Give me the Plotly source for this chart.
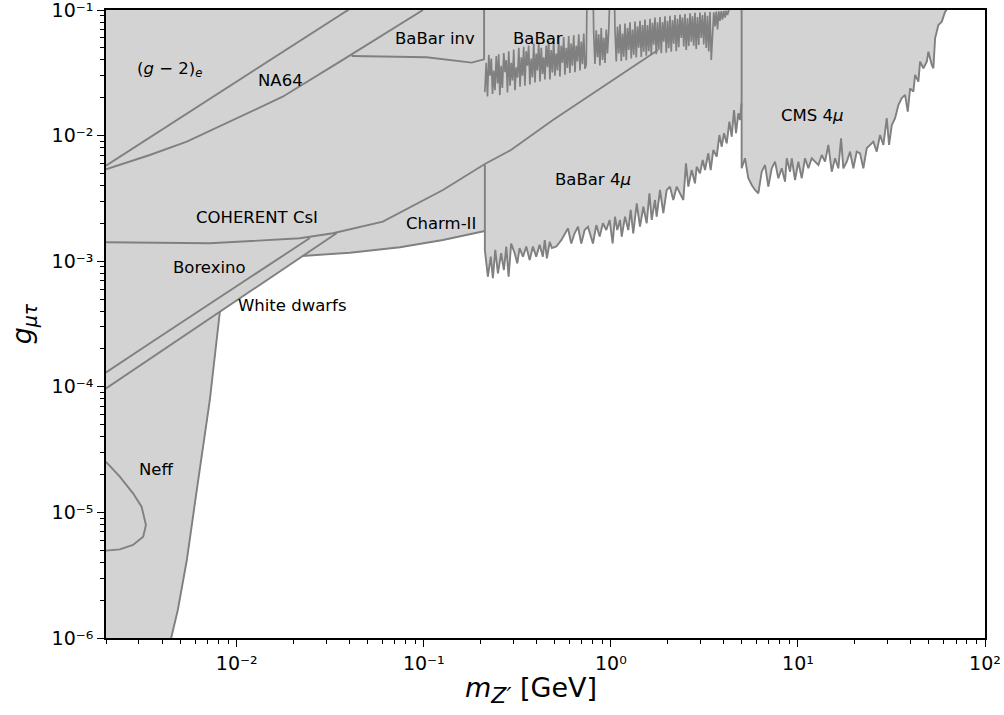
import math
import plotly.graph_objects as go

# ---------------- axis limits ----------------
X_MIN, X_MAX = 0.002, 100.0
Y_MIN, Y_MAX = 1e-6, 1e-1
G_OFF = 1.0        # closing level for excluded regions (above the plot, clipped)
G_LOW = 1e-7       # closing level below the plot

# ---------------- data (m in GeV, g dimensionless) ----------------
g2_m = [0.002, 0.005, 0.01, 0.02, 0.04]
g2_g = [5.76e-3, 1.385e-2, 2.693e-2, 5.23e-2, 1.016e-1]

na64_m = [0.002, 0.00343, 0.00541, 0.00953, 0.0176, 0.0356, 0.0582, 0.099]
na64_g = [5.39e-3, 7.01e-3, 8.94e-3, 1.33e-2, 2.04e-2, 3.88e-2, 6.12e-2, 0.1]

binv_m = [0.0411, 0.1035, 0.1801, 0.21]
binv_g = [4.30e-2, 4.20e-2, 3.81e-2, 4.05e-2]

coh_m = [0.002, 0.00718, 0.02175, 0.03265, 0.0604, 0.1265, 0.212, 0.2922, 0.4903, 1.786]
coh_g = [1.414e-3, 1.389e-3, 1.522e-3, 1.668e-3, 2.063e-3, 3.69e-3, 5.94e-3, 7.68e-3, 1.33e-2, 4.80e-2]

borex_m = [0.002, 0.00365, 0.0246]
borex_g = [1.30e-4, 2.36e-4, 1.53e-3]

wd_m = [0.002, 0.00812, 0.02229, 0.03429]
wd_g = [9.69e-5, 3.94e-4, 1.100e-3, 1.677e-3]

charm_m = [0.0223, 0.04025, 0.0745, 0.1265, 0.212]
charm_g = [1.10e-3, 1.169e-3, 1.290e-3, 1.475e-3, 1.739e-3]

neff_m = [0.00812, 0.00783, 0.00718, 0.00619, 0.00541, 0.00484, 0.00444, 0.00433]
neff_g = [3.94e-4, 2.36e-4, 7.85e-5, 1.714e-5, 4.18e-6, 1.67e-6, 1.0e-6, 8.3e-7]

neff2_m = [0.002, 0.00237, 0.00279, 0.00310, 0.00327, 0.00316, 0.00279, 0.00237, 0.002]
neff2_g = [2.53e-5, 1.924e-5, 1.419e-5, 1.110e-5, 7.94e-6, 6.41e-6, 5.50e-6, 5.08e-6, 4.96e-6]

bvis_m = [0.212, 0.2155, 0.219, 0.2225, 0.226, 0.2295, 0.233, 0.2365, 0.240, 0.244,
          0.248, 0.2515, 0.255, 0.259, 0.263, 0.2675, 0.272, 0.276, 0.280, 0.2845,
          0.289, 0.2935, 0.298, 0.3025, 0.307, 0.312, 0.317, 0.322, 0.327, 0.332,
          0.337, 0.342, 0.347, 0.3525, 0.358, 0.3635, 0.369, 0.375, 0.381, 0.387,
          0.393, 0.399, 0.405, 0.4115, 0.418, 0.4245, 0.431, 0.4375, 0.444, 0.451,
          0.458, 0.465, 0.472, 0.4795, 0.487, 0.4945, 0.502, 0.510, 0.518, 0.526,
          0.534, 0.5425, 0.551, 0.5595, 0.568, 0.577, 0.586, 0.595, 0.604, 0.6135,
          0.623, 0.633, 0.643, 0.653, 0.663, 0.6735, 0.684, 0.6945, 0.705, 0.716,
          0.727, 0.7385, 0.750, 0.7615, 0.773, 0.785, 0.797, 0.8095, 0.822, 0.835,
          0.848, 0.861, 0.874, 0.888, 0.902, 0.916, 0.930, 0.9445, 0.959, 0.974,
          0.989, 1.0045, 1.020, 1.036, 1.052, 1.0685, 1.085, 1.102, 1.119, 1.1365,
          1.154, 1.172, 1.190, 1.2085, 1.227, 1.246, 1.265, 1.285, 1.305, 1.3255,
          1.346, 1.367, 1.388, 1.4095, 1.431, 1.4535, 1.476, 1.499, 1.522, 1.546,
          1.570, 1.5945, 1.619, 1.644, 1.669, 1.695, 1.721, 1.748, 1.775, 1.803,
          1.831, 1.8595, 1.888, 1.9175, 1.947, 1.9775, 2.008, 2.039, 2.070, 2.1025,
          2.135, 2.168, 2.202, 2.2365, 2.271, 2.3065, 2.342, 2.378, 2.415, 2.4525,
          2.490, 2.529, 2.568, 2.608, 2.649, 2.690, 2.731, 2.773, 2.816, 2.860,
          2.904, 2.949, 2.995, 3.042, 3.089, 3.137, 3.185, 3.235, 3.285, 3.336,
          3.387, 3.440, 3.493, 3.548, 3.603, 3.659, 3.716, 3.774, 3.832, 3.891,
          3.951, 4.013, 4.076, 4.139, 4.203, 4.268, 4.334]
bvis_g = [0.0222, 0.0380, 0.0205, 0.0440, 0.0300, 0.0410, 0.0215, 0.0330, 0.0230, 0.0430,
          0.0260, 0.0445, 0.0210, 0.0360, 0.0240, 0.0455, 0.0320, 0.0400, 0.0220, 0.0470,
          0.0250, 0.0380, 0.0275, 0.0485, 0.0230, 0.0350, 0.0290, 0.0500, 0.0245, 0.0420,
          0.0300, 0.0510, 0.0250, 0.0470, 0.0360, 0.0520, 0.0255, 0.0410, 0.0290, 0.0540,
          0.0265, 0.0450, 0.0330, 0.0555, 0.0270, 0.0500, 0.0310, 0.0420, 0.0280, 0.0520,
          0.0350, 0.0570, 0.0280, 0.0480, 0.0318, 0.0590, 0.0300, 0.0450, 0.0330, 0.0600,
          0.0295, 0.0520, 0.0380, 0.0610, 0.0305, 0.0500, 0.0345, 0.0620, 0.0315, 0.0540,
          0.0360, 0.0630, 0.0320, 0.0520, 0.0390, 0.0640, 0.0330, 0.0560, 0.0370, 0.0650,
          0.0340, 0.0365, 0.3, 0.3, 0.3, 0.3, 0.3, 0.0660, 0.0372, 0.0690,
          0.0420, 0.0640, 0.0362, 0.0720, 0.0400, 0.0600, 0.0378, 0.0700, 0.0450, 0.0690,
          0.3, 0.3, 0.3, 0.3, 0.0700, 0.0390, 0.0740, 0.0450, 0.0770, 0.0392,
          0.0650, 0.0425, 0.0780, 0.0398, 0.0720, 0.0480, 0.0800, 0.0412, 0.0700, 0.0440,
          0.0810, 0.0418, 0.0740, 0.0500, 0.0820, 0.0422, 0.0760, 0.0465, 0.0840, 0.0432,
          0.0760, 0.0470, 0.0850, 0.0438, 0.0790, 0.0530, 0.0870, 0.0445, 0.0800, 0.0482,
          0.0880, 0.0452, 0.0800, 0.0560, 0.0890, 0.0458, 0.0820, 0.0496, 0.0900, 0.0466,
          0.0830, 0.0540, 0.0910, 0.0470, 0.0850, 0.0506, 0.0920, 0.0600, 0.0870, 0.0512,
          0.0930, 0.0480, 0.0860, 0.0516, 0.0940, 0.0560, 0.0890, 0.0520, 0.0950, 0.0490,
          0.0880, 0.0526, 0.0955, 0.0600, 0.0910, 0.0532, 0.0960, 0.0498, 0.0900, 0.0468,
          0.0965, 0.0400, 0.0620, 0.0960, 0.0740, 0.0970, 0.0700, 0.0975, 0.0820, 0.0978,
          0.0840, 0.0982, 0.0870, 0.0986, 0.0910, 0.0992, 0.3]

bb4_m = [0.212, 0.212, 0.220, 0.228, 0.234, 0.241, 0.249, 0.259, 0.268, 0.276,
         0.284, 0.293, 0.306, 0.316, 0.325, 0.339, 0.353, 0.368, 0.383, 0.399,
         0.416, 0.433, 0.443, 0.455, 0.471, 0.484, 0.511, 0.543, 0.570, 0.590,
         0.614, 0.640, 0.667, 0.695, 0.724, 0.754, 0.802, 0.836, 0.871, 0.907,
         0.945, 0.985, 1.022, 1.052, 1.082, 1.119, 1.143, 1.190, 1.239, 1.276,
         1.317, 1.375, 1.431, 1.491, 1.554, 1.607, 1.653, 1.721, 1.757, 1.831,
         1.907, 1.988, 2.070, 2.156, 2.248, 2.342, 2.439, 2.521, 2.594, 2.705,
         2.816, 2.875, 2.995, 3.096, 3.185, 3.317, 3.416, 3.527, 3.680, 3.801,
         3.913, 4.026, 4.162, 4.300, 4.425, 4.553, 4.666, 4.801, 4.902, 4.99]
bb4_g = [5.83e-3, 1.23e-3, 7.53e-4, 1.086e-3, 7.32e-4, 1.23e-3, 8.01e-4, 1.158e-3, 8.51e-4, 1.309e-3,
         7.53e-4, 1.384e-3, 1.158e-3, 9.61e-4, 1.271e-3, 1.086e-3, 1.309e-3, 1.02e-3, 1.309e-3, 1.086e-3,
         1.35e-3, 1.086e-3, 1.47e-3, 1.055e-3, 1.425e-3, 1.271e-3, 1.309e-3, 1.47e-3, 1.667e-3, 1.827e-3,
         1.384e-3, 1.667e-3, 1.882e-3, 1.384e-3, 1.77e-3, 1.882e-3, 1.384e-3, 1.94e-3, 1.571e-3, 2.006e-3,
         1.77e-3, 2.13e-3, 1.384e-3, 2.26e-3, 1.77e-3, 2.13e-3, 1.571e-3, 2.26e-3, 1.77e-3, 2.56e-3,
         1.667e-3, 2.89e-3, 1.882e-3, 2.715e-3, 2.006e-3, 3.475e-3, 2.13e-3, 3.07e-3, 2.26e-3, 3.69e-3,
         2.41e-3, 3.69e-3, 3.92e-3, 3.07e-3, 3.92e-3, 3.475e-3, 3.07e-3, 6.02e-3, 3.92e-3, 5.32e-3,
         4.17e-3, 5.65e-3, 5.01e-3, 6.39e-3, 5.32e-3, 7.23e-3, 5.32e-3, 7.68e-3, 6.80e-3, 1.01e-2,
         8.16e-3, 1.045e-2, 8.69e-3, 1.29e-2, 9.80e-3, 1.60e-2, 1.045e-2, 1.506e-2, 1.33e-2, 1.808e-2]

cms_m = [5.0, 5.213, 5.430, 5.662, 5.897, 6.141, 6.402, 6.670, 6.946, 7.242,
         7.543, 7.855, 8.191, 8.531, 8.711, 9.078, 9.268, 9.649, 10.05, 10.48,
         10.91, 11.37, 11.85, 12.34, 12.86, 13.41, 13.96, 14.54, 15.16, 15.79,
         16.45, 17.00, 17.49, 18.24, 18.99, 19.78, 20.62, 21.48, 22.37, 23.32,
         24.30, 25.30, 26.38, 27.48, 28.62, 29.85, 30.70, 31.74, 33.06, 34.43,
         35.90, 37.39, 38.65, 39.77, 41.41, 42.29, 44.04, 44.97, 46.83, 48.84,
         49.81, 51.93, 52.97, 54.10, 56.34, 58.74, 61.18, 62.47]
cms_g = [5.49e-3, 6.60e-3, 4.58e-3, 4.04e-3, 3.69e-3, 3.475e-3, 5.16e-3, 5.83e-3, 3.92e-3, 5.49e-3,
         6.20e-3, 4.58e-3, 5.49e-3, 4.30e-3, 6.60e-3, 5.16e-3, 6.60e-3, 4.43e-3, 6.20e-3, 4.58e-3,
         6.60e-3, 5.49e-3, 6.60e-3, 6.20e-3, 5.83e-3, 7.01e-3, 6.20e-3, 8.42e-3, 5.16e-3, 6.60e-3,
         5.49e-3, 9.51e-3, 5.49e-3, 6.20e-3, 7.45e-3, 5.49e-3, 7.45e-3, 7.23e-3, 5.49e-3, 7.93e-3,
         8.42e-3, 8.95e-3, 7.45e-3, 1.01e-2, 8.42e-3, 1.375e-2, 8.42e-3, 1.21e-2, 1.375e-2, 1.75e-2,
         1.99e-2, 2.11e-2, 1.55e-2, 2.38e-2, 2.24e-2, 3.04e-2, 2.69e-2, 3.88e-2, 3.44e-2, 3.88e-2,
         4.66e-2, 3.65e-2, 3.44e-2, 5.95e-2, 7.60e-2, 8.08e-2, 9.70e-2, 0.1]

# labels
label_text = ["(<i>g</i> − 2)<sub><i>e</i></sub>", "NA64", "BaBar inv", "BaBar", "CMS 4<i>μ</i>",
              "COHERENT CsI", "Charm-II", "Borexino", "White dwarfs", "BaBar 4<i>μ</i>", "Neff"]
label_m = [4.39e-3, 0.0171, 0.1153, 0.4076, 11.82, 0.0128, 0.1242, 7.14e-3, 0.0198, 0.802, 3.69e-3]
label_g = [0.0333, 0.0277, 0.0593, 0.0593, 0.01445, 2.23e-3, 2.0e-3, 8.91e-4, 4.48e-4, 4.47e-3, 2.21e-5]

x_tick_vals = [1e-2, 1e-1, 1e0, 1e1, 1e2]
x_tick_text = ["10⁻²", "10⁻¹", "10⁰", "10¹", "10²"]
y_tick_vals = [1e-6, 1e-5, 1e-4, 1e-3, 1e-2, 1e-1]
y_tick_text = ["10⁻⁶", "10⁻⁵", "10⁻⁴", "10⁻³", "10⁻²", "10⁻¹"]

# ---------------- styles ----------------
FILL = "#d3d3d3"
EDGE = "#808080"
LW = 1.9
FONT = "DejaVu Sans"
EPS = 1e-6

fig = go.Figure()


def add_fill(xs, ys):
    fig.add_trace(go.Scatter(x=xs, y=ys, mode="lines", fill="toself", fillcolor=FILL,
                             line=dict(color=FILL, width=1), hoverinfo="skip", showlegend=False))


def above(m, g):
    return m + [m[-1], m[0]], g + [G_OFF, G_OFF]


def add_line(xs, ys, width=LW):
    fig.add_trace(go.Scatter(x=xs, y=ys, mode="lines", line=dict(color=EDGE, width=width),
                             hoverinfo="skip", showlegend=False))


# excluded regions (fills)
add_fill(neff_m + [X_MIN, X_MIN], neff_g + [G_LOW, wd_g[0]])
add_fill(*above(wd_m, wd_g))
add_fill(*above(borex_m, borex_g))
add_fill(*above(coh_m, coh_g))
add_fill(*above(charm_m, charm_g))
add_fill(*above(bb4_m, bb4_g))
add_fill(*above(cms_m, cms_g))
add_fill(*above(na64_m, na64_g))
add_fill(*above(g2_m, g2_g))
add_fill(*above(binv_m, binv_g))
add_fill(*above(bvis_m, bvis_g))

# boundaries
add_line(neff_m, neff_g)
add_line(neff2_m, neff2_g)
add_line(wd_m, wd_g)
add_line(borex_m, borex_g)
add_line(charm_m, charm_g)
add_line(coh_m, coh_g)
add_line(bb4_m, bb4_g)
add_line([cms_m[0]] + cms_m, [G_OFF] + cms_g)
add_line(na64_m, na64_g)
add_line(g2_m, g2_g)
add_line(binv_m + [binv_m[-1]], binv_g + [G_OFF])
add_line(bvis_m, bvis_g, width=1.7)

# labels
for t, m, g in zip(label_text, label_m, label_g):
    fig.add_annotation(x=math.log10(m), y=math.log10(g), xref="x", yref="y", text=t,
                       showarrow=False, xanchor="center", yanchor="middle",
                       font=dict(family=FONT, size=16.5, color="black"))

# axis titles
fig.add_annotation(x=0.484, y=-0.083, xref="paper", yref="paper",
                   text="<i>m</i><sub><span style='font-size:22px'><i>Z′</i></span></sub>&nbsp;[GeV]",
                   showarrow=False, xanchor="center", yanchor="middle",
                   font=dict(family=FONT, size=27, color="black"))
fig.add_annotation(x=-0.094, y=0.5, xref="paper", yref="paper",
                   text="<i>g</i><sub><i>μτ</i></sub>", showarrow=False, textangle=-90,
                   xanchor="center", yanchor="middle", font=dict(family=FONT, size=27, color="black"))

x_minor = [k * 10.0 ** d for d in range(-3, 2) for k in range(2, 10) if X_MIN <= k * 10.0 ** d <= X_MAX]
y_minor = [k * 10.0 ** d for d in range(-6, -1) for k in range(2, 10)]

axis_common = dict(type="log", showline=True, linecolor="black", linewidth=1.5, mirror=True,
                   ticks="outside", ticklen=7, tickwidth=1.4, tickcolor="black",
                   showgrid=False, zeroline=False, ticklabeloverflow="allow", automargin=False,
                   tickfont=dict(family=FONT, size=19, color="black"))

fig.update_xaxes(range=[math.log10(X_MIN), math.log10(X_MAX) + EPS], tickmode="array",
                 tickvals=x_tick_vals, ticktext=x_tick_text,
                 minor=dict(ticks="outside", ticklen=4, tickwidth=1.1, tickcolor="black",
                            tickmode="array", tickvals=x_minor, showgrid=False),
                 **axis_common)
fig.update_yaxes(range=[math.log10(Y_MIN) - EPS, math.log10(Y_MAX) + EPS], tickmode="array",
                 tickvals=y_tick_vals, ticktext=y_tick_text,
                 minor=dict(ticks="outside", ticklen=4, tickwidth=1.1, tickcolor="black",
                            tickmode="array", tickvals=y_minor, showgrid=False),
                 **axis_common)

fig.update_layout(width=1004, height=715, margin=dict(l=106, r=19, t=10, b=77, autoexpand=False),
                  plot_bgcolor="white", paper_bgcolor="white", showlegend=False,
                  font=dict(family=FONT, color="black"))

fig.write_html("out.html")
